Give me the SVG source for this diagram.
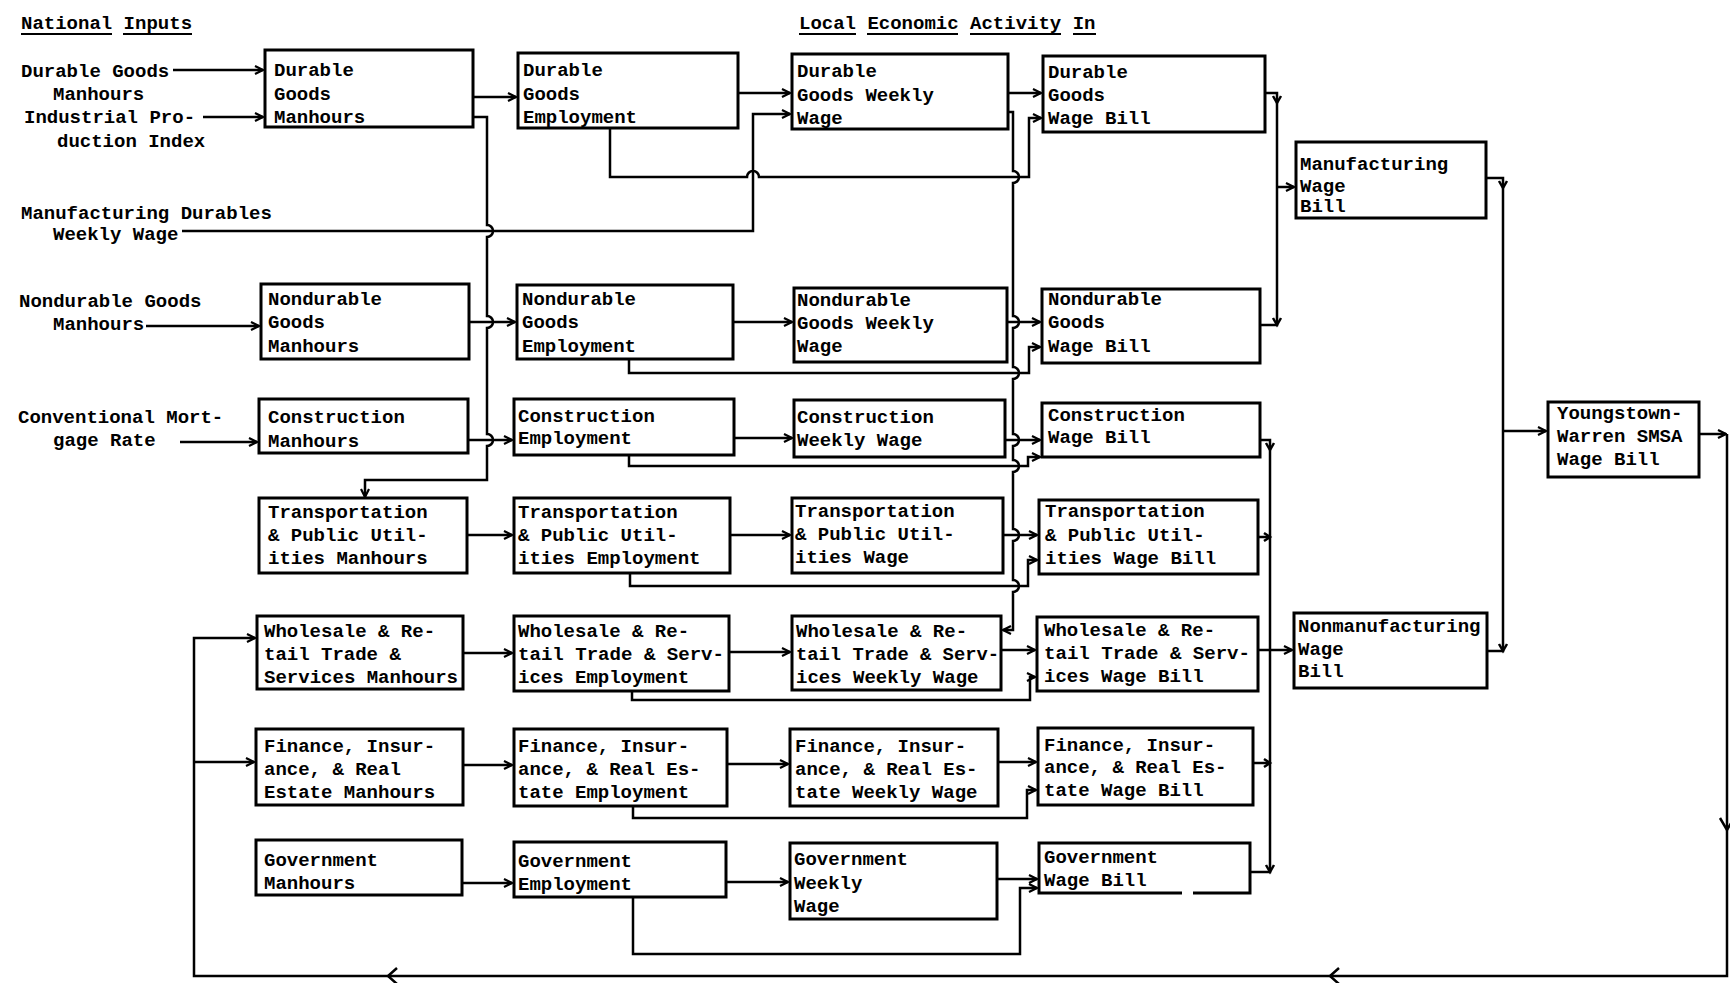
<svg xmlns="http://www.w3.org/2000/svg" width="1730" height="983" viewBox="0 0 1730 983">
<defs>
<style>
.t{font-family:"Liberation Mono","DejaVu Sans Mono",monospace;font-size:19px;font-weight:bold;fill:#000}
.b{fill:#fff;stroke:#000;stroke-width:3}
.c{fill:none;stroke:#000;stroke-width:2.5;stroke-linejoin:miter}
.a{marker-end:url(#arr)}
.h{fill:none;stroke:#000;stroke-width:2.5}
.u{stroke:#000;stroke-width:2}
</style>
<marker id="arr" viewBox="0 0 10 10" refX="9" refY="5" markerWidth="10" markerHeight="10" markerUnits="userSpaceOnUse" orient="auto">
<path d="M1,1 L9,5 L1,9" fill="none" stroke="#000" stroke-width="2.2"/>
</marker>
</defs>
<rect width="1730" height="983" fill="#fff"/>

<g id="labels">
<text class="t" x="21" y="29">National Inputs</text>
<line class="u" x1="21" y1="34" x2="112" y2="34"/><line class="u" x1="123" y1="34" x2="192" y2="34"/>
<text class="t" x="799" y="29">Local Economic Activity In</text>
<line class="u" x1="799" y1="34" x2="856" y2="34"/><line class="u" x1="867" y1="34" x2="958" y2="34"/><line class="u" x1="970" y1="34" x2="1061" y2="34"/><line class="u" x1="1073" y1="34" x2="1096" y2="34"/>
<text class="t" x="21" y="77">Durable Goods</text>
<text class="t" x="53" y="100">Manhours</text>
<text class="t" x="24" y="123">Industrial Pro-</text>
<text class="t" x="57" y="147">duction Index</text>
<text class="t" x="21" y="219">Manufacturing Durables</text>
<text class="t" x="53" y="240">Weekly Wage</text>
<text class="t" x="19" y="307">Nondurable Goods</text>
<text class="t" x="53" y="330">Manhours</text>
<text class="t" x="18" y="423">Conventional Mort-</text>
<text class="t" x="53" y="446">gage Rate</text>
</g>

<g id="connectors">
<path class="c a" d="M173,70 H263"/>
<path class="c a" d="M203,117 H263"/>
<path class="c a" d="M473,97 H516"/>
<path class="c a" d="M473,117 H487 V225 A6,6 0 0 1 487,237 V316 A6,6 0 0 1 487,328 V434 A6,6 0 0 1 487,446 V480 H365 V497"/>
<path class="c a" d="M182,231 H753 V114 H790"/>
<path class="c a" d="M738,93 H790"/>
<path class="c a" d="M610,128 V177 H747 A6,6 0 0 1 759,177 H1029 V118 H1041"/>
<path class="c a" d="M1008,93 H1041"/>
<path class="c a" d="M1006,112 H1013 V171 A6,6 0 0 1 1013,183 V316 A6,6 0 0 1 1013,328 V367 A6,6 0 0 1 1013,379 V434 A6,6 0 0 1 1013,446 V460 A6,6 0 0 1 1013,472 V529 A6,6 0 0 1 1013,541 V580 A6,6 0 0 1 1013,592 V630 H1003"/>
<path class="c a" d="M146,326 H259"/>
<path class="c a" d="M469,322 H515"/>
<path class="c a" d="M733,322 H792"/>
<path class="c a" d="M629,359 V373 H1029 V347 H1040"/>
<path class="c a" d="M1007,322 H1040"/>
<path class="c a" d="M180,442 H257"/>
<path class="c a" d="M468,440 H512"/>
<path class="c a" d="M734,438 H792"/>
<path class="c a" d="M629,455 V466 H1028 V457 H1040"/>
<path class="c a" d="M1005,440 H1040"/>
<path class="c a" d="M467,535 H512"/>
<path class="c a" d="M730,535 H790"/>
<path class="c a" d="M630,573 V586 H1028 V560 H1037"/>
<path class="c a" d="M1003,535 H1037"/>
<path class="c a" d="M463,653 H512"/>
<path class="c a" d="M729,652 H790"/>
<path class="c a" d="M632,691 V700 H1030 V677 H1035"/>
<path class="c a" d="M1001,650 H1035"/>
<path class="c a" d="M463,765 H512"/>
<path class="c a" d="M727,764 H788"/>
<path class="c a" d="M633,806 V818 H1027 V790 H1036"/>
<path class="c a" d="M998,762 H1036"/>
<path class="c a" d="M462,883 H512"/>
<path class="c a" d="M726,882 H788"/>
<path class="c a" d="M633,897 V954 H1020 V888 H1037"/>
<path class="c a" d="M997,879 H1037"/>
<path class="c" d="M1265,93 H1277 V325 H1260"/>
<path class="c a" d="M1277,187 H1294"/>
<path class="c" d="M1260,440 H1270 V872 H1250"/>
<path class="c" d="M1258,537 H1270"/>
<path class="c a" d="M1258,650 H1292"/>
<path class="c" d="M1253,763 H1270"/>
<path class="c" d="M1486,178 H1503 V651 H1487"/>
<path class="c a" d="M1503,431 H1546"/>
<path class="c a" d="M1699,434 H1726"/>
<path class="c a" d="M1727,434 V976 H194 V638 H255"/>
<path class="c a" d="M194,762 H254"/>
<path class="h" d="M397,968 L388,976 L397,984"/>
<path class="h" d="M1339,968 L1330,976 L1339,984"/>
<path class="h" d="M1720,818 L1727,830 L1734,818"/>
<path class="h" d="M1273,96 L1277,103 L1281,96"/>
<path class="h" d="M1273,318 L1277,325 L1281,318"/>
<path class="h" d="M1266,443 L1270,450 L1274,443"/>
<path class="h" d="M1266,865 L1270,872 L1274,865"/>
<path class="h" d="M1499,181 L1503,188 L1507,181"/>
<path class="h" d="M1499,644 L1503,651 L1507,644"/>
<path class="h" d="M1264,533 L1270,537 L1264,541"/>
<path class="h" d="M1264,759 L1270,763 L1264,767"/>
</g>

<g id="dg_manhours"><rect class="b" x="265" y="50" width="208" height="77"/>
<text class="t" x="274" y="76">Durable</text><text class="t" x="274" y="100">Goods</text><text class="t" x="274" y="123">Manhours</text></g>
<g id="dg_employment"><rect class="b" x="518" y="53" width="220" height="75"/>
<text class="t" x="523" y="76">Durable</text><text class="t" x="523" y="100">Goods</text><text class="t" x="523" y="123">Employment</text></g>
<g id="dg_weekly_wage"><rect class="b" x="792" y="54" width="216" height="75"/>
<text class="t" x="797" y="77">Durable</text><text class="t" x="797" y="101">Goods Weekly</text><text class="t" x="797" y="124">Wage</text></g>
<g id="dg_wage_bill"><rect class="b" x="1043" y="56" width="222" height="76"/>
<text class="t" x="1048" y="78">Durable</text><text class="t" x="1048" y="101">Goods</text><text class="t" x="1048" y="124">Wage Bill</text></g>
<g id="manufacturing_wage_bill"><rect class="b" x="1296" y="142" width="190" height="76"/>
<text class="t" x="1300" y="170">Manufacturing</text><text class="t" x="1300" y="192">Wage</text><text class="t" x="1300" y="212">Bill</text></g>

<g id="nd_manhours"><rect class="b" x="261" y="284" width="208" height="75"/>
<text class="t" x="268" y="305">Nondurable</text><text class="t" x="268" y="328">Goods</text><text class="t" x="268" y="352">Manhours</text></g>
<g id="nd_employment"><rect class="b" x="517" y="285" width="216" height="74"/>
<text class="t" x="522" y="305">Nondurable</text><text class="t" x="522" y="328">Goods</text><text class="t" x="522" y="352">Employment</text></g>
<g id="nd_weekly_wage"><rect class="b" x="794" y="288" width="213" height="74"/>
<text class="t" x="797" y="306">Nondurable</text><text class="t" x="797" y="329">Goods Weekly</text><text class="t" x="797" y="352">Wage</text></g>
<g id="nd_wage_bill"><rect class="b" x="1042" y="289" width="218" height="74"/>
<text class="t" x="1048" y="305">Nondurable</text><text class="t" x="1048" y="328">Goods</text><text class="t" x="1048" y="352">Wage Bill</text></g>

<g id="con_manhours"><rect class="b" x="259" y="399" width="209" height="54"/>
<text class="t" x="268" y="423">Construction</text><text class="t" x="268" y="447">Manhours</text></g>
<g id="con_employment"><rect class="b" x="514" y="399" width="220" height="56"/>
<text class="t" x="518" y="422">Construction</text><text class="t" x="518" y="444">Employment</text></g>
<g id="con_weekly_wage"><rect class="b" x="794" y="400" width="211" height="57"/>
<text class="t" x="797" y="423">Construction</text><text class="t" x="797" y="446">Weekly Wage</text></g>
<g id="con_wage_bill"><rect class="b" x="1042" y="403" width="218" height="54"/>
<text class="t" x="1048" y="421">Construction</text><text class="t" x="1048" y="443">Wage Bill</text></g>

<g id="tpu_manhours"><rect class="b" x="259" y="498" width="208" height="75"/>
<text class="t" x="268" y="518">Transportation</text><text class="t" x="268" y="541">&amp; Public Util-</text><text class="t" x="268" y="564">ities Manhours</text></g>
<g id="tpu_employment"><rect class="b" x="514" y="498" width="216" height="75"/>
<text class="t" x="518" y="518">Transportation</text><text class="t" x="518" y="541">&amp; Public Util-</text><text class="t" x="518" y="564">ities Employment</text></g>
<g id="tpu_wage"><rect class="b" x="792" y="498" width="211" height="75"/>
<text class="t" x="795" y="517">Transportation</text><text class="t" x="795" y="540">&amp; Public Util-</text><text class="t" x="795" y="563">ities Wage</text></g>
<g id="tpu_wage_bill"><rect class="b" x="1039" y="500" width="219" height="74"/>
<text class="t" x="1045" y="517">Transportation</text><text class="t" x="1045" y="541">&amp; Public Util-</text><text class="t" x="1045" y="564">ities Wage Bill</text></g>

<g id="wrt_manhours"><rect class="b" x="257" y="616" width="206" height="73"/>
<text class="t" x="264" y="637">Wholesale &amp; Re-</text><text class="t" x="264" y="660">tail Trade &amp;</text><text class="t" x="264" y="683" textLength="194" lengthAdjust="spacingAndGlyphs">Services Manhours</text></g>
<g id="wrt_employment"><rect class="b" x="514" y="616" width="215" height="75"/>
<text class="t" x="518" y="637">Wholesale &amp; Re-</text><text class="t" x="518" y="660" textLength="206" lengthAdjust="spacingAndGlyphs">tail Trade &amp; Serv-</text><text class="t" x="518" y="683">ices Employment</text></g>
<g id="wrt_weekly_wage"><rect class="b" x="792" y="616" width="209" height="74"/>
<text class="t" x="796" y="637">Wholesale &amp; Re-</text><text class="t" x="796" y="660" textLength="203" lengthAdjust="spacingAndGlyphs">tail Trade &amp; Serv-</text><text class="t" x="796" y="683">ices Weekly Wage</text></g>
<g id="wrt_wage_bill"><rect class="b" x="1037" y="617" width="221" height="74"/>
<text class="t" x="1044" y="636">Wholesale &amp; Re-</text><text class="t" x="1044" y="659" textLength="206" lengthAdjust="spacingAndGlyphs">tail Trade &amp; Serv-</text><text class="t" x="1044" y="682">ices Wage Bill</text></g>
<g id="nonmanufacturing_wage_bill"><rect class="b" x="1294" y="613" width="193" height="75"/>
<text class="t" x="1298" y="632">Nonmanufacturing</text><text class="t" x="1298" y="655">Wage</text><text class="t" x="1298" y="677">Bill</text></g>

<g id="fire_manhours"><rect class="b" x="256" y="729" width="207" height="76"/>
<text class="t" x="264" y="752">Finance, Insur-</text><text class="t" x="264" y="775">ance, &amp; Real</text><text class="t" x="264" y="798">Estate Manhours</text></g>
<g id="fire_employment"><rect class="b" x="514" y="729" width="213" height="77"/>
<text class="t" x="518" y="752">Finance, Insur-</text><text class="t" x="518" y="775">ance, &amp; Real Es-</text><text class="t" x="518" y="798">tate Employment</text></g>
<g id="fire_weekly_wage"><rect class="b" x="790" y="729" width="208" height="77"/>
<text class="t" x="795" y="752">Finance, Insur-</text><text class="t" x="795" y="775">ance, &amp; Real Es-</text><text class="t" x="795" y="798">tate Weekly Wage</text></g>
<g id="fire_wage_bill"><rect class="b" x="1038" y="728" width="215" height="77"/>
<text class="t" x="1044" y="751">Finance, Insur-</text><text class="t" x="1044" y="773">ance, &amp; Real Es-</text><text class="t" x="1044" y="796">tate Wage Bill</text></g>

<g id="gov_manhours"><rect class="b" x="256" y="840" width="206" height="55"/>
<text class="t" x="264" y="866">Government</text><text class="t" x="264" y="889">Manhours</text></g>
<g id="gov_employment"><rect class="b" x="514" y="842" width="212" height="55"/>
<text class="t" x="518" y="867">Government</text><text class="t" x="518" y="890">Employment</text></g>
<g id="gov_weekly_wage"><rect class="b" x="790" y="843" width="207" height="76"/>
<text class="t" x="794" y="865">Government</text><text class="t" x="794" y="889">Weekly</text><text class="t" x="794" y="912">Wage</text></g>
<g id="gov_wage_bill"><rect x="1039" y="843" width="211" height="50" fill="#fff"/>
<path d="M1182,893 H1039 V843 H1250 V893 H1193" fill="none" stroke="#000" stroke-width="3"/>
<text class="t" x="1044" y="863">Government</text><text class="t" x="1044" y="886">Wage Bill</text></g>

<g id="youngstown_warren_smsa_wage_bill"><rect class="b" x="1548" y="402" width="151" height="75"/>
<text class="t" x="1557" y="419">Youngstown-</text><text class="t" x="1557" y="442">Warren SMSA</text><text class="t" x="1557" y="465">Wage Bill</text></g>
</svg>
